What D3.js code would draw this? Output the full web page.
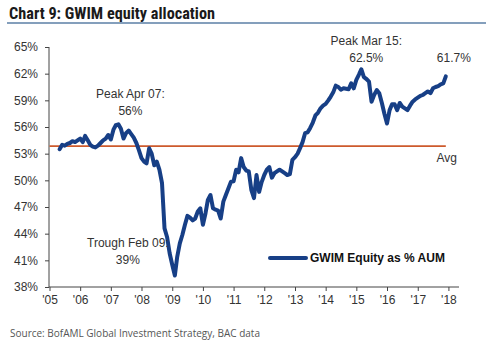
<!DOCTYPE html>
<html><head><meta charset="utf-8">
<script src="https://cdn.jsdelivr.net/npm/d3@7"></script>
<style>
html,body{margin:0;padding:0;background:#fff;}
svg{display:block;font-family:"Liberation Sans",Arial,sans-serif;}
</style></head>
<body><svg id="c" width="488" height="358"></svg>
<script>
// ---- data ----
const startMonth = [2005, 5]; // May 2005 (year, month 1-12)
const equityPct = [
  53.5, 54.0, 53.9, 54.1, 54.2, 54.4, 54.3, 54.5,                 // 2005 May-Dec
  54.7, 54.3, 55.0, 54.5, 54.0, 53.8, 53.7, 53.9, 54.2, 54.5, 54.7, 55.1, // 2006
  54.6, 55.7, 56.2, 56.3, 55.8, 54.7, 55.3, 55.6, 55.2, 54.8, 54.2, 53.4, // 2007
  52.5, 52.1, 51.9, 53.6, 53.0, 51.7, 52.1, 51.2, 49.7, 44.6, 43.6, 41.8, // 2008
  40.5, 39.3, 41.4, 42.9, 43.85, 45.0, 46.0, 45.8, 45.5, 45.7, 46.5, 46.85, // 2009
  45.0, 46.3, 47.8, 48.35, 46.85, 46.7, 46.6, 45.7, 47.6, 48.35, 49.1, 49.85, // 2010
  49.9, 51.2, 50.9, 52.5, 51.5, 51.1, 51.0, 48.9, 48.0, 50.6, 48.7, 49.8, // 2011
  50.6, 51.2, 51.5, 50.3, 50.8, 51.0, 51.2, 51.0, 50.8, 50.6, 50.7, 52.3, // 2012
  52.6, 53.0, 53.6, 54.3, 55.3, 55.4, 55.9, 56.5, 57.3, 57.6, 58.1, 58.4, // 2013
  58.6, 59.0, 59.4, 59.9, 60.65, 60.5, 60.2, 60.35, 60.3, 60.25, 60.9, 60.35, // 2014
  61.3, 61.9, 62.5, 61.6, 61.4, 61.1, 58.85, 59.6, 60.15, 59.8, 58.7, 57.5, // 2015
  56.4, 57.9, 58.55, 58.55, 57.9, 58.7, 58.3, 58.1, 57.9, 58.4, 58.85, 59.1, // 2016
  59.3, 59.5, 59.6, 59.8, 60.0, 59.8, 60.35, 60.5, 60.6, 60.8, 60.9, 61.7  // 2017
];
const avgPct = 53.85;
const yTicks = [38, 41, 44, 47, 50, 53, 56, 59, 62, 65];
const xYears = [2005,2006,2007,2008,2009,2010,2011,2012,2013,2014,2015,2016,2017,2018];
const annotations = [
  {date:[2007,4], lines:["Peak Apr 07:", "56%"], dx:12, y:[98,115]},
  {date:[2009,2], lines:["Trough Feb 09:", "39%"], dx:-47, y:[247,264]},
  {date:[2015,3], lines:["Peak Mar 15:", "62.5%"], dx:5, y:[45,62]},
  {date:[2017,12], lines:["61.7%"], dx:8, y:[62]}
];
const titleText = "Chart 9: GWIM equity allocation";
const sourceText = "Source: BofAML Global Investment Strategy, BAC data";
const legendLabel = "GWIM Equity as % AUM";

// ---- build ----
const series = equityPct.map((v,i)=>({date:new Date(startMonth[0], startMonth[1]-1+i, 1), v}));
const svg = d3.select("#c");
const x = d3.scaleTime().domain([new Date(2005,0,1), new Date(2018,4,1)]).range([49.5, 458.5]);
const y = d3.scaleLinear().domain([38,65]).range([287,47]);

// title
svg.append("text").attr("x",9).attr("y",19).text(titleText)
  .attr("font-family","'Liberation Sans Narrow','Roboto Condensed',Arial,sans-serif")
  .attr("font-weight","bold").attr("font-size",17).attr("fill","#1a1a1a")
  .attr("textLength",206).attr("lengthAdjust","spacingAndGlyphs");
svg.append("line").attr("x1",7).attr("x2",486).attr("y1",23).attr("y2",23)
  .attr("stroke","#5b7fa6").attr("stroke-width",1.5);

// y axis
const yAxis = svg.append("g").attr("transform","translate(49,0)")
  .call(d3.axisLeft(y).tickValues(yTicks).tickSize(4).tickPadding(7).tickFormat(d=>d+"%"));
yAxis.selectAll("path,line").attr("stroke","#444").attr("stroke-width",1);
yAxis.select(".domain").attr("d","M0,47V287");
yAxis.selectAll("text").attr("font-size",12).attr("fill","#333")
  .attr("font-family","'Liberation Sans',Arial,sans-serif");

// x axis
const xAxis = svg.append("g").attr("transform","translate(0,287)")
  .call(d3.axisBottom(x).tickValues(xYears.map(yv=>new Date(yv,0,1))).tickSize(4).tickPadding(4)
    .tickFormat(d=>"'"+String(d.getFullYear()).slice(2)));
xAxis.selectAll("path,line").attr("stroke","#444").attr("stroke-width",1);
xAxis.select(".domain").attr("d","M49,0H459");
xAxis.selectAll("text").attr("font-size",12).attr("fill","#333")
  .attr("font-family","'Liberation Sans',Arial,sans-serif");

// avg line
svg.append("line").attr("x1",x(new Date(2005,0,1))).attr("x2",x(new Date(2017,11,1)))
  .attr("y1",y(avgPct)).attr("y2",y(avgPct)).attr("stroke","#cd5a2c").attr("stroke-width",1.6);
svg.append("text").attr("x",x(new Date(2017,11,1))+1).attr("y",162).attr("text-anchor","middle")
  .attr("font-size",12).attr("fill","#333").text("Avg");

// main line
svg.append("path").datum(series)
  .attr("d", d3.line().x(d=>x(d.date)).y(d=>y(d.v)))
  .attr("fill","none").attr("stroke","#173f86").attr("stroke-width",4)
  .attr("stroke-linejoin","round").attr("stroke-linecap","round");

// annotations
annotations.forEach(a=>{
  const cx = x(new Date(a.date[0], a.date[1]-1, 1)) + a.dx;
  a.lines.forEach((t,i)=>{
    svg.append("text").attr("x",cx).attr("y",a.y[i]).attr("text-anchor","middle")
      .attr("font-size",12).attr("fill","#333").text(t);
  });
});

// legend
svg.append("line").attr("x1",270).attr("x2",306).attr("y1",258).attr("y2",258)
  .attr("stroke","#173f86").attr("stroke-width",4).attr("stroke-linecap","round");
svg.append("text").attr("x",310).attr("y",262).attr("font-size",12).attr("font-weight","bold")
  .attr("fill","#111").text(legendLabel);

// source
svg.append("text").attr("x",10).attr("y",337).attr("font-size",10)
  .attr("font-family","'Open Sans',sans-serif").attr("fill","#555").text(sourceText);
</script>
</body></html>
